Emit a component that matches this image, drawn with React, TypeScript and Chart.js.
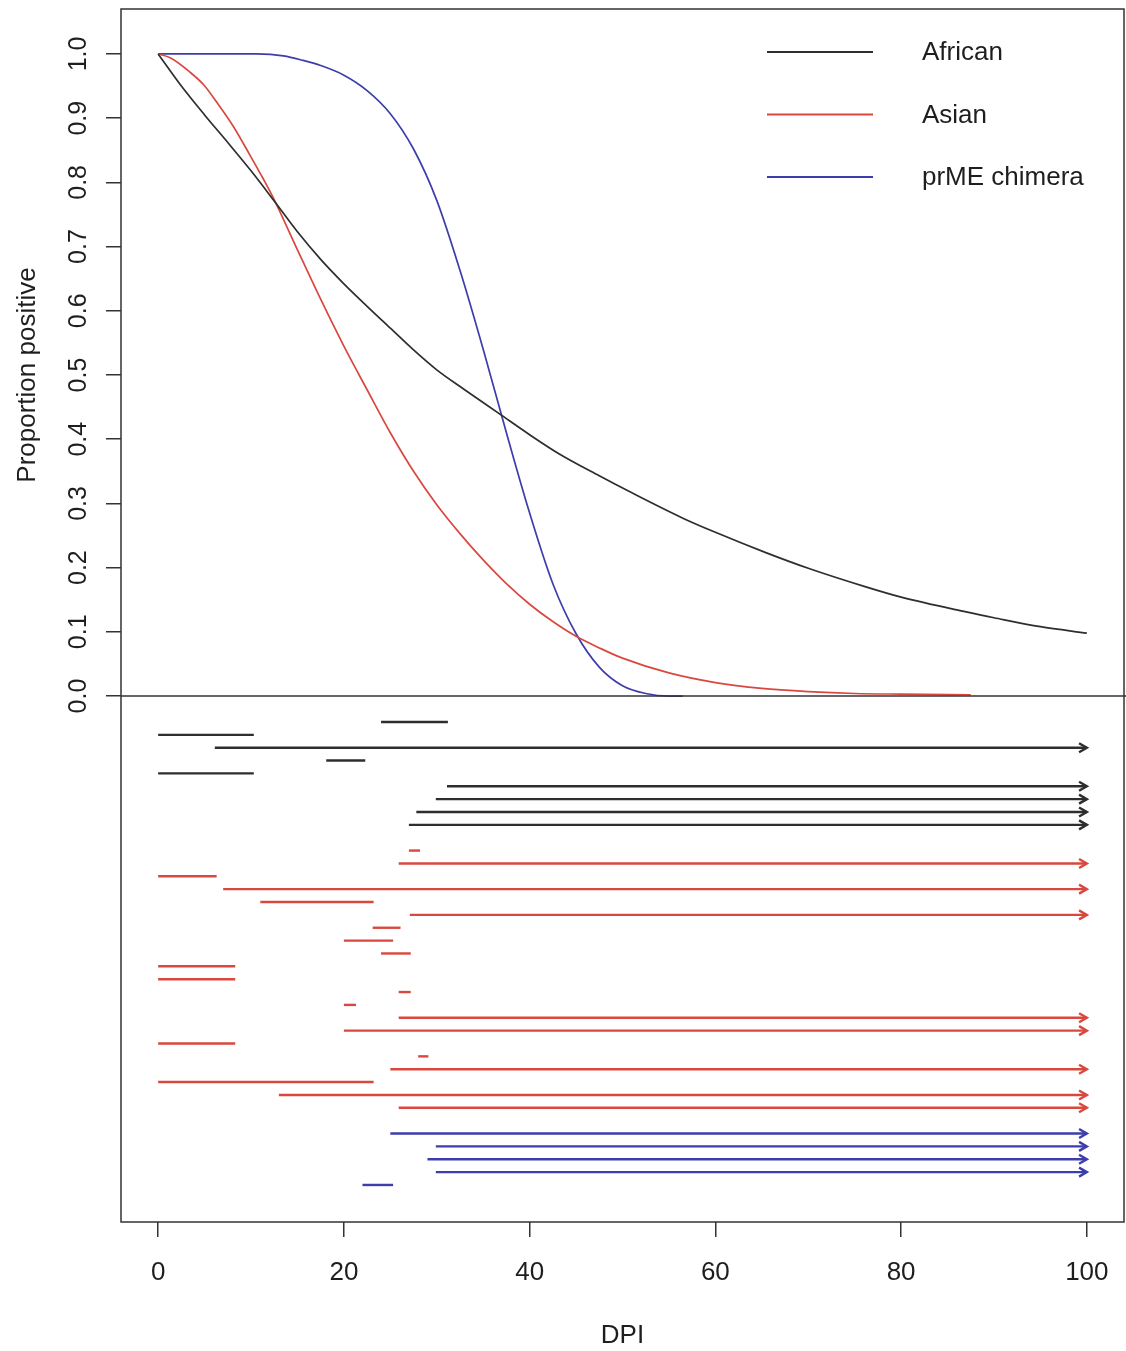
import React, { useEffect, useRef } from 'react';
import { Chart, registerables } from 'chart.js';

Chart.register(...registerables);

// ---------- data ----------
const X_TICKS = [0, 20, 40, 60, 80, 100];
const Y_TICKS = [0, 0.1, 0.2, 0.3, 0.4, 0.5, 0.6, 0.7, 0.8, 0.9, 1.0];

const SERIES_NAMES = ['African', 'Asian', 'prME chimera'];
const SERIES_COLORS = ['#2e2e2e', '#d9483f', '#3d3dad'];

// Fitted proportion positive vs DPI
const AFRICAN_DPI = [0, 2.5, 5, 7.5, 10, 12.5, 15, 17.5, 20, 22.5, 25, 27.5, 30, 33, 36.8, 40, 43.2, 47.5, 50.8, 56.5, 60, 65.5, 70, 76.2, 80, 87, 90, 95, 100];
const AFRICAN_P = [1.0, 0.950, 0.905, 0.862, 0.818, 0.771, 0.723, 0.680, 0.642, 0.607, 0.573, 0.539, 0.508, 0.477, 0.439, 0.407, 0.377, 0.343, 0.318, 0.277, 0.255, 0.223, 0.199, 0.170, 0.154, 0.131, 0.122, 0.108, 0.098];

const ASIAN_DPI = [0, 1.3, 3.4, 4.9, 6.3, 8.1, 9.9, 11.3, 12.4, 15, 17.5, 20, 22.5, 25, 27.5, 30, 32.5, 35, 37.5, 40, 42.5, 45, 47.5, 50, 55, 60, 65, 70, 75, 80, 87.5];
const ASIAN_P = [1.0, 0.994, 0.972, 0.952, 0.925, 0.887, 0.842, 0.806, 0.776, 0.695, 0.618, 0.545, 0.477, 0.410, 0.350, 0.298, 0.253, 0.212, 0.175, 0.143, 0.116, 0.093, 0.075, 0.059, 0.036, 0.021, 0.012, 0.007, 0.004, 0.003, 0.002];

const CHIMERA_DPI = [0, 10.6, 13.5, 15.6, 17.5, 20, 22.5, 25, 27.5, 30, 32.5, 35, 37.5, 40, 42.5, 45, 47.5, 50, 52.5, 55, 56.5];
const CHIMERA_P = [1.0, 1.0, 0.997, 0.990, 0.982, 0.967, 0.943, 0.907, 0.852, 0.772, 0.663, 0.540, 0.410, 0.285, 0.175, 0.097, 0.045, 0.016, 0.004, 0.0, 0.0];

// Individual intervals (lower panel), one per row, top to bottom
const INT_GROUP = [0, 0, 0, 0, 0, 0, 0, 0, 0,
  1, 1, 1, 1, 1, 1, 1, 1, 1, 1, 1, 1, 1, 1, 1, 1, 1, 1, 1, 1, 1,
  2, 2, 2, 2, 2];
const INT_ROW = [0, 1, 2, 3, 4, 5, 6, 7, 8,
  10, 11, 12, 13, 14, 15, 16, 17, 18, 19, 20, 21, 22, 23, 24, 25, 26, 27, 28, 29, 30,
  32, 33, 34, 35, 36];
const INT_START = [24.0, 0, 6.1, 18.1, 0, 31.1, 29.9, 27.8, 27.0,
  27.0, 25.9, 0, 7.0, 11.0, 27.1, 23.1, 20.0, 24.0, 0, 0, 25.9, 20.0, 25.9, 20.0, 0, 28.0, 25.0, 0, 13.0, 25.9,
  25.0, 29.9, 29.0, 29.9, 22.0];
const INT_END = [31.2, 10.3, 100, 22.3, 10.3, 100, 100, 100, 100,
  28.2, 100, 6.3, 100, 23.2, 100, 26.1, 25.3, 27.2, 8.3, 8.3, 27.2, 21.3, 100, 100, 8.3, 29.1, 100, 23.2, 100, 100,
  100, 100, 100, 100, 25.3];
const INT_OPEN = [false, false, true, false, false, true, true, true, true,
  false, true, false, true, false, true, false, false, false, false, false, false, false, true, true, false, false, true, false, true, true,
  true, true, true, true, false];

// axis ranges
const X_MIN = -4;
const X_MAX = 104;
const P_MIN = -0.07;
const P_MAX = 1.07;
const ROW_TOP = 1.48;
const ROW_BOTTOM = 38.88;

const FONT = "'Liberation Sans', Arial, Helvetica, sans-serif";
const TEXT = '#1e1e1e';
const AXIS = '#333333';

const framePlugin = {
  id: 'frame',
  afterDatasetsDraw(chart: any) {
    const { ctx, chartArea } = chart;
    const yTop = chart.scales.y;
    ctx.save();
    ctx.strokeStyle = AXIS;
    ctx.lineWidth = 1.5;
    ctx.strokeRect(chartArea.left, chartArea.top, chartArea.right - chartArea.left, chartArea.bottom - chartArea.top);
    const y0 = yTop.getPixelForValue(0);
    ctx.beginPath();
    ctx.moveTo(chartArea.left, y0);
    ctx.lineTo(chart.width, y0);
    ctx.stroke();
    ctx.restore();
  },
};

const arrowPlugin = {
  id: 'arrows',
  afterDatasetsDraw(chart: any) {
    const { ctx } = chart;
    chart.data.datasets.forEach((ds: any, i: number) => {
      if (!ds.openEnded) return;
      const pts = chart.getDatasetMeta(i).data;
      const a = pts[0];
      const b = pts[pts.length - 1];
      const ang = Math.atan2(b.y - a.y, b.x - a.x);
      const L = 9;
      const phi = Math.PI / 6;
      ctx.save();
      ctx.strokeStyle = ds.borderColor;
      ctx.lineWidth = ds.borderWidth;
      ctx.beginPath();
      ctx.moveTo(b.x - L * Math.cos(ang - phi), b.y - L * Math.sin(ang - phi));
      ctx.lineTo(b.x, b.y);
      ctx.lineTo(b.x - L * Math.cos(ang + phi), b.y - L * Math.sin(ang + phi));
      ctx.stroke();
      ctx.restore();
    });
  },
};

const legendPlugin = {
  id: 'rlegend',
  afterDraw(chart: any) {
    const { ctx, chartArea } = chart;
    ctx.save();
    ctx.font = `26px ${FONT}`;
    ctx.textBaseline = 'middle';
    ctx.textAlign = 'left';
    SERIES_NAMES.forEach((name, i) => {
      const y = chartArea.top + 43 + i * 62.5;
      ctx.strokeStyle = SERIES_COLORS[i];
      ctx.lineWidth = 1.8;
      ctx.beginPath();
      ctx.moveTo(chartArea.right - 357, y);
      ctx.lineTo(chartArea.right - 251, y);
      ctx.stroke();
      ctx.fillStyle = TEXT;
      ctx.fillText(name, chartArea.right - 202, y + 1);
    });
    ctx.restore();
  },
};

function curve(dpi: number[], p: number[]) {
  return dpi.map((x, i) => ({ x, y: p[i] }));
}

export default function App() {
  const ref = useRef<HTMLCanvasElement | null>(null);

  useEffect(() => {
    if (!ref.current) return;
    const curves = [
      curve(AFRICAN_DPI, AFRICAN_P),
      curve(ASIAN_DPI, ASIAN_P),
      curve(CHIMERA_DPI, CHIMERA_P),
    ].map((data, i) => ({
      label: SERIES_NAMES[i],
      data,
      xAxisID: 'x',
      yAxisID: 'y',
      borderColor: SERIES_COLORS[i],
      backgroundColor: SERIES_COLORS[i],
      borderWidth: 1.7,
      pointRadius: 0,
      cubicInterpolationMode: 'monotone',
      fill: false,
    }));

    const intervals = INT_ROW.map((row, k) => ({
      label: `${SERIES_NAMES[INT_GROUP[k]]} ${k + 1}`,
      data: [
        { x: INT_START[k], y: row },
        { x: INT_END[k], y: row },
      ],
      xAxisID: 'x',
      yAxisID: 'yRows',
      borderColor: SERIES_COLORS[INT_GROUP[k]],
      backgroundColor: SERIES_COLORS[INT_GROUP[k]],
      borderWidth: 2.4,
      pointRadius: 0,
      fill: false,
      clip: false,
      openEnded: INT_OPEN[k],
    }));

    const chart = new Chart(ref.current, {
      type: 'line',
      data: { datasets: [...curves, ...intervals] as any },
      options: {
        responsive: false,
        animation: false,
        events: [],
        devicePixelRatio: 1,
        layout: { padding: { top: 9, right: 2, left: 0, bottom: 0 } },
        plugins: { legend: { display: false }, tooltip: { enabled: false } },
        scales: {
          x: {
            type: 'linear',
            position: 'bottom',
            min: X_MIN,
            max: X_MAX,
            afterBuildTicks: (s: any) => { s.ticks = X_TICKS.map((v) => ({ value: v })); },
            afterFit: (s: any) => { s.height = 129; s.paddingLeft = 0; s.paddingRight = 0; },
            ticks: {
              autoSkip: false,
              maxRotation: 0,
              padding: 20,
              color: TEXT,
              font: { family: FONT, size: 26 },
              callback: (v: any) => String(v),
            },
            grid: { display: true, drawOnChartArea: false, drawTicks: true, tickLength: 15, color: AXIS, lineWidth: 1.5 },
            border: { display: false },
            title: { display: true, text: 'DPI', color: TEXT, font: { family: FONT, size: 26 }, padding: { top: 0, bottom: 0 } },
          },
          y: {
            type: 'linear',
            position: 'left',
            stack: 'left',
            stackWeight: 732,
            weight: 2,
            min: P_MIN,
            max: P_MAX,
            afterBuildTicks: (s: any) => { s.ticks = Y_TICKS.map((v) => ({ value: v })); },
            afterFit: (s: any) => { s.width = 121; s.paddingTop = 0; s.paddingBottom = 0; },
            ticks: {
              autoSkip: false,
              minRotation: 90,
              maxRotation: 90,
              crossAlign: 'center',
              padding: 10,
              color: TEXT,
              font: { family: FONT, size: 25 },
              callback: (v: any) => Number(v).toFixed(1),
            },
            grid: { display: true, drawOnChartArea: false, drawTicks: true, tickLength: 15, color: AXIS, lineWidth: 1.5 },
            border: { display: false },
            title: { display: true, text: 'Proportion positive', color: TEXT, font: { family: FONT, size: 26 }, padding: { top: 12, bottom: 0 } },
          },
          yRows: {
            type: 'linear',
            position: 'left',
            stack: 'left',
            stackWeight: 481,
            weight: 1,
            reverse: true,
            min: ROW_TOP,
            max: ROW_BOTTOM,
            afterFit: (s: any) => { s.width = 121; s.paddingTop = 0; s.paddingBottom = 0; },
            ticks: { display: false },
            grid: { display: false },
            border: { display: false },
          },
        },
      } as any,
      plugins: [framePlugin, arrowPlugin, legendPlugin],
    });
    return () => chart.destroy();
  }, []);

  return (
    <div style={{ position: 'absolute', left: 0, top: 0, width: 1126, height: 1351, background: '#fff' }}>
      <canvas ref={ref} width={1126} height={1351} style={{ display: 'block' }} />
    </div>
  );
}
